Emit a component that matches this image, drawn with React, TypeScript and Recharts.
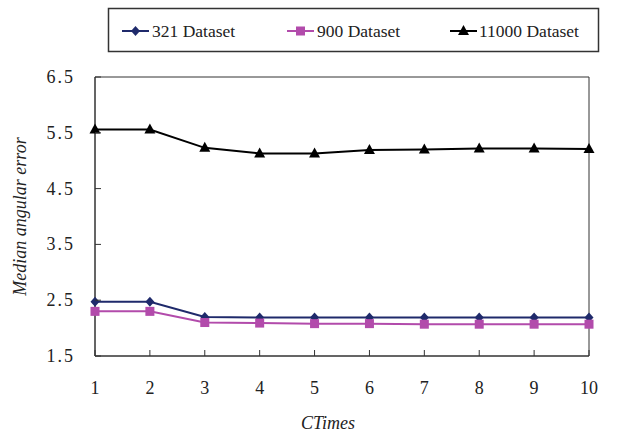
import { LineChart, Line, XAxis, YAxis, ReferenceArea, Label } from 'recharts'

const ctimes = [1, 2, 3, 4, 5, 6, 7, 8, 9, 10]
const set321 = [2.47, 2.47, 2.2, 2.19, 2.19, 2.19, 2.19, 2.19, 2.19, 2.19]
const set900 = [2.3, 2.3, 2.1, 2.09, 2.08, 2.08, 2.07, 2.07, 2.07, 2.07]
const set11000 = [5.56, 5.56, 5.23, 5.13, 5.13, 5.19, 5.2, 5.22, 5.22, 5.21]
const yTicks = [1.5, 2.5, 3.5, 4.5, 5.5, 6.5]

const data = ctimes.map((c, i) => ({
  c,
  s321: set321[i],
  s900: set900[i],
  s11000: set11000[i],
}))

const NAVY = '#1f2a6b'
const PINK = '#b24bab'
const BLACK = '#000'
const SERIF = 'Liberation Serif, Times New Roman, DejaVu Serif, serif'

const Diamond = (p: any) => {
  const { cx, cy } = p
  if (cx == null || cy == null) return null
  return <path d={`M${cx},${cy - 5}L${cx + 4.5},${cy}L${cx},${cy + 5}L${cx - 4.5},${cy}Z`} fill={NAVY} />
}
const Square = (p: any) => {
  const { cx, cy } = p
  if (cx == null || cy == null) return null
  return <rect x={cx - 4.5} y={cy - 4.5} width={9} height={9} fill={PINK} />
}
const Triangle = (p: any) => {
  const { cx, cy } = p
  if (cx == null || cy == null) return null
  return <path d={`M${cx},${cy - 6}L${cx + 5.5},${cy + 4}L${cx - 5.5},${cy + 4}Z`} fill={BLACK} />
}

const YTick = (p: any) => {
  const { x, y, payload } = p
  return (
    <g>
      <line x1={x} x2={x + 6} y1={y} y2={y} stroke="#333" />
      <text x={x - 20} y={y} dy={6} textAnchor="end" style={{ fontFamily: SERIF }} fontSize={18} letterSpacing={2} fill="#222">
        {payload.value.toFixed(1)}
      </text>
    </g>
  )
}

const XTick = (p: any) => {
  const { x, y, payload } = p
  return (
    <g>
      <line x1={x} x2={x} y1={y} y2={y - 6} stroke="#333" />
      <text x={x} y={y + 38} textAnchor="middle" style={{ fontFamily: SERIF }} fontSize={18} fill="#222">
        {payload.value}
      </text>
    </g>
  )
}

const legendItems = [
  { name: '321 Dataset', color: NAVY, Dot: Diamond, iconX: 122, textX: 152 },
  { name: '900 Dataset', color: PINK, Dot: Square, iconX: 287, textX: 317 },
  { name: '11000 Dataset', color: BLACK, Dot: Triangle, iconX: 450, textX: 479 },
]

export default function App() {
  return (
    <div style={{ position: 'absolute', left: 0, top: 0, width: 618, height: 437, background: '#fff', fontFamily: SERIF }}>
      <LineChart width={618} height={437} data={data} margin={{ top: 77, right: 29, left: 0, bottom: 0 }}>
        <XAxis
          dataKey="c"
          type="number"
          domain={[1, 10]}
          ticks={ctimes}
          height={81}
          axisLine={{ stroke: '#333' }}
          tickLine={false}
          tickSize={0}
          tickMargin={0}
          tick={<XTick />}
        >
          <Label value="CTimes" position="insideBottom" offset={8} dx={-14} style={{ fontFamily: SERIF }} fontStyle="italic" fontSize={18} fill="#222" />
        </XAxis>
        <YAxis
          domain={[1.5, 6.5]}
          ticks={yTicks}
          width={95}
          axisLine={{ stroke: '#333' }}
          tickLine={false}
          tickSize={0}
          tickMargin={0}
          tick={<YTick />}
        >
          <Label value="Median angular error" angle={-90} position="insideLeft" offset={20} style={{ fontFamily: SERIF, textAnchor: 'middle' }} fontStyle="italic" fontSize={18} fill="#222" />
        </YAxis>
        <ReferenceArea x1={1} x2={10} y1={1.5} y2={6.5} fill="none" stroke="#333" strokeOpacity={1} />
        <Line dataKey="s321" stroke={NAVY} strokeWidth={2} dot={<Diamond />} isAnimationActive={false} />
        <Line dataKey="s900" stroke={PINK} strokeWidth={2} dot={<Square />} isAnimationActive={false} />
        <Line dataKey="s11000" stroke={BLACK} strokeWidth={2} dot={<Triangle />} isAnimationActive={false} />
      </LineChart>
      <svg width={618} height={60} style={{ position: 'absolute', left: 0, top: 0 }}>
        <rect x={108.5} y={8.5} width={490} height={43} fill="#fff" stroke="#333" strokeWidth={1.5} />
        {legendItems.map((it) => (
          <g key={it.name}>
            <line x1={it.iconX} x2={it.iconX + 27} y1={31} y2={31} stroke={it.color} strokeWidth={2} />
            <it.Dot cx={it.iconX + 13.5} cy={31} />
            <text x={it.textX} y={37} style={{ fontFamily: SERIF }} fontSize={17.5} fill="#222">
              {it.name}
            </text>
          </g>
        ))}
      </svg>
    </div>
  )
}
